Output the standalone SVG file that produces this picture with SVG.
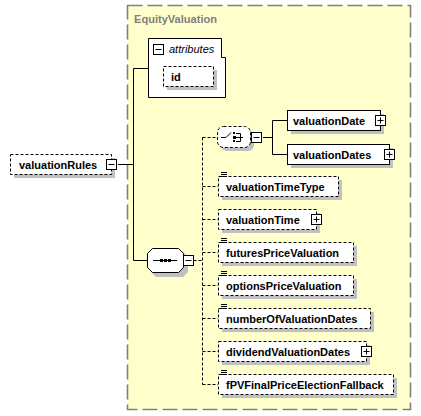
<svg xmlns="http://www.w3.org/2000/svg" width="421" height="416" viewBox="0 0 421 416">
<style>
.t{font-family:"Liberation Sans",Arial,sans-serif;font-size:11px;font-weight:bold;fill:#000}
.ti{font-family:"Liberation Sans",Arial,sans-serif;font-size:11px;font-style:italic;fill:#000}
.hd{font-family:"Liberation Sans",Arial,sans-serif;font-size:11px;font-weight:bold;fill:#808080}
.box{fill:#fff;stroke:#000;stroke-width:1}
.opt{fill:#fff;stroke:#000;stroke-width:1;stroke-dasharray:3,2}
.sh{fill:#c0c0c0}
.ln{fill:none;stroke:#000;stroke-width:1}
.dl{fill:none;stroke:#000;stroke-width:1;stroke-dasharray:3,2}
.pm{fill:#fff;stroke:#000;stroke-width:1}
.ic{fill:none;stroke:#000;stroke-width:1}
</style>
<defs>
<g id="plus"><rect x="0" y="0" width="10" height="10" class="pm"/><path d="M2,5H8M5,2V8" class="ic"/></g>
<g id="minus"><rect x="0" y="0" width="10" height="10" class="pm"/><path d="M2,5H8" class="ic"/></g>
<path id="doc" d="M0,0H6M0,2H6M0,4H6" class="ic"/>
</defs>
<rect width="421" height="416" fill="#fff"/>
<g id="EquityValuation">
<rect x="127.5" y="5.5" width="283" height="404" fill="#ffffcc" stroke="#808080" stroke-width="1.6" stroke-dasharray="15,5"/>
<text class="hd" x="134" y="23" textLength="83" lengthAdjust="spacingAndGlyphs">EquityValuation</text>
</g>
<g id="connectors">
<path class="ln" d="M118,164.5H133.5M133.5,68.5V260.5M133.5,68.5H148M133.5,260.5H148"/>
<path class="ln" d="M263,137.5H272.5M272.5,120.5V154.5M272.5,120.5H287.5M272.5,154.5H287.5"/>
<path class="dl" d="M193.5,260.5H202.5M202.5,137.5V384.5M202.5,137.5H217M202.5,186.5H218M202.5,219.5H218M202.5,252.5H218M202.5,285.5H218M202.5,318.5H218M202.5,351.5H218M202.5,384.5H218"/>
</g>
<g id="valuationRules">
<rect class="sh" x="14" y="158" width="101" height="20"/>
<rect class="opt" x="10.5" y="154.5" width="101" height="20"/>
<text class="t" x="19" y="168.5">valuationRules</text>
<use href="#minus" x="106.5" y="159.5"/>
</g>
<g id="attributes">
<path d="M148.5,38.5H221.5V57.5H225.5V97.5H148.5Z" fill="#fff" stroke="#000"/>
<use href="#minus" x="153.5" y="44.5"/>
<text class="ti" x="169" y="53">attributes</text>
</g>
<g id="id">
<rect class="sh" x="167" y="70" width="50" height="20"/>
<rect class="opt" x="163.5" y="66.5" width="50" height="20"/>
<text class="t" x="171" y="80.5">id</text>
</g>
<g id="sequence">
<path class="sh" d="M156,252H183L188,257V272L183,277H156L151,272V257Z"/>
<path d="M152.5,248.5H178.5L183.5,253.5V267.5L178.5,272.5H152.5L147.5,267.5V253.5Z" fill="#fff" stroke="#000"/>
<path class="ic" d="M153,260.5H177"/>
<rect x="160" y="259" width="3" height="3" fill="#000"/>
<rect x="164" y="259" width="3" height="3" fill="#000"/>
<rect x="168" y="259" width="3" height="3" fill="#000"/>
<use href="#minus" x="183.5" y="255.5"/>
</g>
<g id="choice">
<rect class="sh" x="221" y="130" width="33" height="21" rx="6"/>
<rect class="opt" x="217.5" y="126.5" width="33" height="21" rx="6"/>
<path class="ic" d="M221,137.5H226L231,132.5"/>
<rect x="233" y="132" width="2" height="2" fill="#000"/>
<rect x="233" y="136" width="3" height="3" fill="#000"/>
<rect x="233" y="140" width="2" height="2" fill="#000"/>
<path class="ic" d="M236,133.5H240.5V141.5H236M236,137.5H243"/>
<use href="#minus" x="251.5" y="132.5"/>
</g>
<g id="valuationDate">
<rect class="sh" x="291" y="114" width="93" height="20"/>
<rect class="box" x="287.5" y="110.5" width="93" height="20"/>
<text class="t" x="293" y="124.5">valuationDate</text>
<use href="#plus" x="375.5" y="115.5"/>
</g>
<g id="valuationDates">
<rect class="sh" x="291" y="148" width="102" height="20"/>
<rect class="box" x="287.5" y="144.5" width="102" height="20"/>
<text class="t" x="293" y="158.5">valuationDates</text>
<use href="#plus" x="384.5" y="149.5"/>
</g>
<g id="valuationTimeType">
<rect class="sh" x="222" y="180" width="120" height="20"/>
<rect class="opt" x="218.5" y="176.5" width="120" height="20"/>
<use href="#doc" x="221" y="172.5"/>
<text class="t" x="226" y="190.5">valuationTimeType</text>
</g>
<g id="valuationTime">
<rect class="sh" x="222" y="213" width="98" height="20"/>
<rect class="opt" x="218.5" y="209.5" width="98" height="20"/>
<text class="t" x="226" y="223.5">valuationTime</text>
<use href="#plus" x="311.5" y="214.5"/>
</g>
<g id="futuresPriceValuation">
<rect class="sh" x="222" y="246" width="135" height="20"/>
<rect class="opt" x="218.5" y="242.5" width="135" height="20"/>
<use href="#doc" x="221" y="238.5"/>
<text class="t" x="226" y="256.5">futuresPriceValuation</text>
</g>
<g id="optionsPriceValuation">
<rect class="sh" x="222" y="279" width="135" height="20"/>
<rect class="opt" x="218.5" y="275.5" width="135" height="20"/>
<use href="#doc" x="221" y="271.5"/>
<text class="t" x="226" y="289.5">optionsPriceValuation</text>
</g>
<g id="numberOfValuationDates">
<rect class="sh" x="222" y="312" width="152" height="20"/>
<rect class="opt" x="218.5" y="308.5" width="152" height="20"/>
<use href="#doc" x="221" y="304.5"/>
<text class="t" x="226" y="322.5">numberOfValuationDates</text>
</g>
<g id="dividendValuationDates">
<rect class="sh" x="222" y="345" width="148" height="20"/>
<rect class="opt" x="218.5" y="341.5" width="148" height="20"/>
<text class="t" x="226" y="355.5">dividendValuationDates</text>
<use href="#plus" x="361.5" y="346.5"/>
</g>
<g id="fPVFinalPriceElectionFallback">
<rect class="sh" x="222" y="378" width="175" height="20"/>
<rect class="opt" x="218.5" y="374.5" width="175" height="20"/>
<use href="#doc" x="221" y="370.5"/>
<text class="t" x="226" y="388.5">fPVFinalPriceElectionFallback</text>
</g>
</svg>
